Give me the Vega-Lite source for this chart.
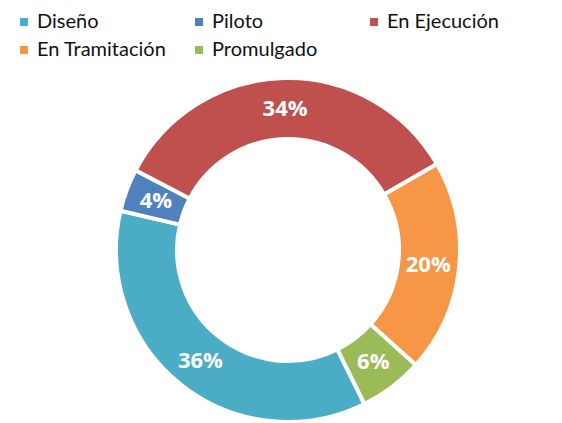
{
  "$schema": "https://vega.github.io/schema/vega-lite/v6.json",
  "width": 340,
  "height": 340,
  "autosize": {"type": "none"},
  "padding": {"left": 118, "top": 80, "right": 104, "bottom": 3},
  "background": "white",
  "config": {"view": {"stroke": null}, "font": "Open Sans"},
  "data": {
    "values": [
      {"estado": "Diseño", "valor": 0.36, "orden": 1},
      {"estado": "Piloto", "valor": 0.04, "orden": 2},
      {"estado": "En Ejecución", "valor": 0.34, "orden": 3},
      {"estado": "En Tramitación", "valor": 0.20, "orden": 4},
      {"estado": "Promulgado", "valor": 0.06, "orden": 5}
    ]
  },
  "encoding": {
    "theta": {"field": "valor", "type": "quantitative", "stack": true, "scale": {"range": [2.6808, 8.9640]}},
    "order": {"field": "orden", "type": "quantitative"}
  },
  "layer": [
    {
      "mark": {"type": "arc", "outerRadius": 172, "innerRadius": 111, "stroke": "white", "strokeWidth": 4},
      "encoding": {
        "color": {
          "field": "estado",
          "type": "nominal",
          "sort": ["Diseño", "Piloto", "En Ejecución", "En Tramitación", "Promulgado"],
          "scale": {
            "domain": ["Diseño", "Piloto", "En Ejecución", "En Tramitación", "Promulgado"],
            "range": ["#4BACC6", "#4F81BD", "#C0504D", "#F79646", "#9BBB59"]
          },
          "legend": {
            "title": null,
            "orient": "none",
            "legendX": -104,
            "legendY": -68,
            "direction": "horizontal",
            "columns": 3,
            "gridAlign": "all",
            "columnPadding": 22,
            "rowPadding": 8,
            "symbolType": "square",
            "symbolSize": 64,
            "symbolStrokeWidth": 0,
            "labelFontSize": 20,
            "labelColor": "#111111",
            "labelOffset": 3,
            "labelFont": "Lato"
          }
        }
      }
    },
    {
      "mark": {"type": "text", "radius": 141, "fontSize": 22, "fontWeight": "bold", "color": "white", "font": "Open Sans"},
      "encoding": {
        "text": {"field": "valor", "type": "quantitative", "format": ".0%"}
      }
    }
  ]
}
